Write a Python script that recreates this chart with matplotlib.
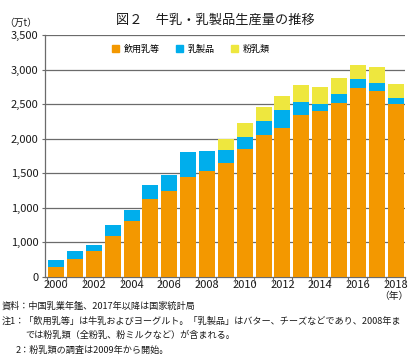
import matplotlib
matplotlib.use("Agg")
import matplotlib.pyplot as plt
from matplotlib.patches import Patch
import numpy as np

plt.rcParams['font.family'] = ['Noto Sans CJK JP', 'DejaVu Sans']

years = list(range(2000, 2019))
drinking_milk = [141, 257, 369, 587, 809, 1135, 1242, 1444, 1531, 1647, 1850, 2053, 2150, 2343, 2401, 2517, 2729, 2691, 2498]
dairy_products = [102, 117, 92, 161, 155, 194, 231, 358, 285, 184, 169, 198, 261, 184, 97, 126, 131, 111, 87]
milk_powder = [0, 0, 0, 0, 0, 0, 0, 0, 0, 169, 203, 203, 203, 246, 246, 231, 208, 232, 202]
series_names = ['飲用乳等', '乳製品', '粉乳類']
ytick_values = [0, 500, 1000, 1500, 2000, 2500, 3000, 3500]
ytick_labels = ['0', '1,000', '1,000', '1,500', '2,000', '2,500', '3,000', '3,500']
title = '図２　牛乳・乳製品生産量の推移'
notes = ['資料：中国乳業年鑑、2017年以降は国家統計局',
         '注1：「飲用乳等」は牛乳およびヨーグルト。「乳製品」はバター、チーズなどであり、2008年ま',
         'では粉乳類（全粉乳、粉ミルクなど）が含まれる。',
         '2：粉乳類の調査は2009年から開始。']

colors = ['#F39800', '#00AEEC', '#EEE73E']
grid_color = '#6B6B6B'

W, H = 414, 362
fig = plt.figure(figsize=(W / 100, H / 100), dpi=100)
ax = fig.add_axes([45 / W, 1 - 277 / H, 360 / W, 242 / H])

x = np.arange(len(years))
d1 = np.array(drinking_milk)
d2 = np.array(dairy_products)
d3 = np.array(milk_powder)
bw = 0.85
ax.bar(x, d1, bw, color=colors[0], zorder=3)
ax.bar(x, d2, bw, bottom=d1, color=colors[1], zorder=3)
ax.bar(x, d3, bw, bottom=d1 + d2, color=colors[2], zorder=3)

ax.set_xlim(-0.59, len(years) - 0.5)
ax.set_ylim(0, 3500)
ax.set_yticks(ytick_values)
ax.set_yticklabels(ytick_labels, fontsize=8, color='#1a1a1a')
for v in ytick_values[1:]:
    ax.axhline(v, color=grid_color, lw=0.9, zorder=1)

ax.set_xticks(x[::2])
ax.set_xticklabels([str(y) for y in years[::2]], fontsize=8, color='#1a1a1a')
ax.set_xticks(np.arange(len(years) + 1) - 0.5, minor=True)
ax.tick_params(axis='x', which='major', length=0, pad=2.5)
ax.tick_params(axis='x', which='minor', length=4, width=0.8, color=grid_color, direction='out')
ax.tick_params(axis='y', length=2.5, width=0.8, color=grid_color, pad=2)

for s in ['top', 'right']:
    ax.spines[s].set_visible(False)
ax.spines['left'].set_color(grid_color)
ax.spines['bottom'].set_color(grid_color)
ax.spines['left'].set_linewidth(0.9)
ax.spines['bottom'].set_linewidth(0.9)

handles = [Patch(color=c, label=n) for c, n in zip(colors, series_names)]
leg = ax.legend(handles=handles, loc='center', bbox_to_anchor=(0.405, 0.942), ncol=3,
                frameon=False, fontsize=6.5, handlelength=0.8, handleheight=0.8,
                handletextpad=0.5, columnspacing=1.8)

fig.text(215 / W, 1 - 20 / H, title, ha='center', va='center', fontsize=9.5, color='#1a1a1a')
fig.text(21 / W, 1 - 23 / H, '（万t）', ha='center', va='center', fontsize=7, color='#1a1a1a')
fig.text(394 / W, 1 - 296 / H, '（年）', ha='center', va='center', fontsize=7, color='#1a1a1a')

note_pos = [(2, 306), (2, 321), (25, 335), (16, 350)]
for (nx, ny), t in zip(note_pos, notes):
    fig.text(nx / W, 1 - ny / H, t, ha='left', va='center', fontsize=6.6, color='#1a1a1a')

fig.savefig('out.png', dpi=100)
